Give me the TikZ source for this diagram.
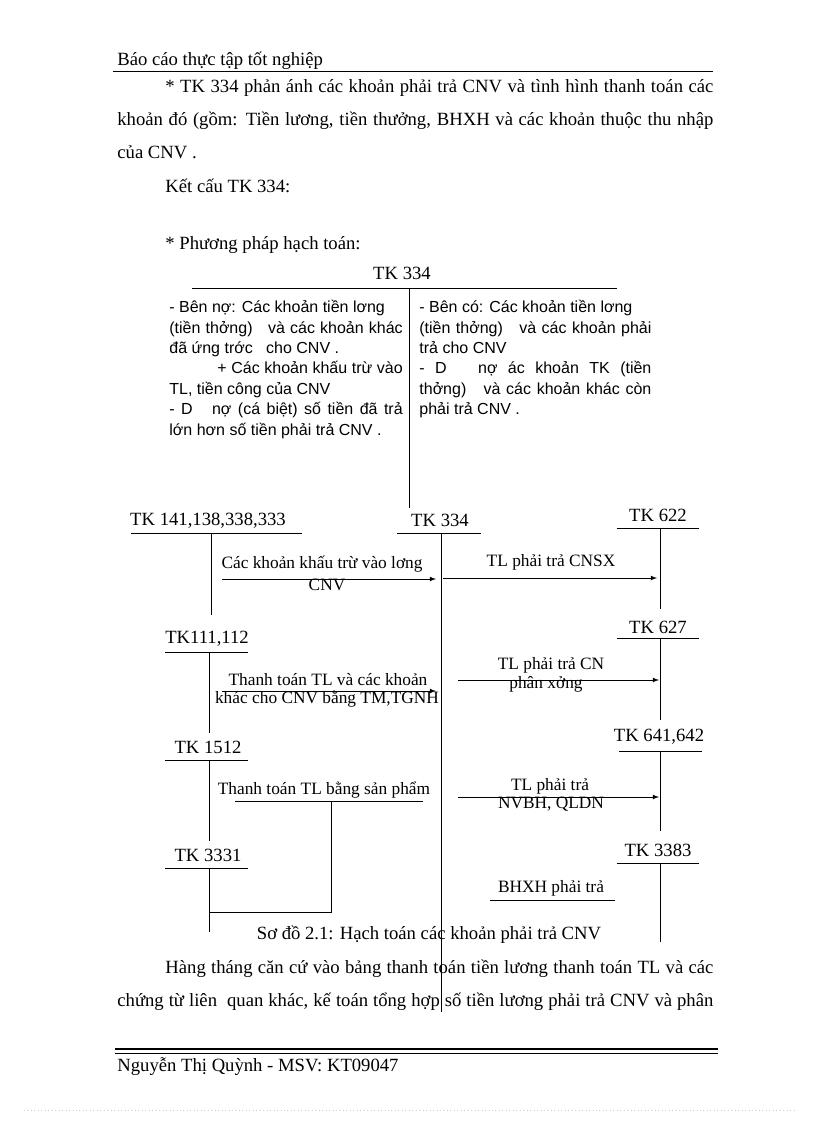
\documentclass[tikz,border=0pt]{standalone}
\usepackage{fontspec}
\setmainfont{Liberation Serif}
\newfontfamily\tksans{Liberation Sans}
\usetikzlibrary{positioning, arrows}

\begin{document}
\begin{tikzpicture}[x=0.75pt, y=-0.75pt, line width=0.6pt,
    body/.style={anchor=base west, inner sep=0pt, font=\fontsize{14}{16}\selectfont},
    acct/.style={inner sep=0pt, font=\fontsize{14}{16}\selectfont},
    lbl/.style={inner sep=0pt, font=\fontsize{13}{15}\selectfont},
    side/.style={anchor=north west, inner sep=0pt, text width=175pt, align=justify,
        font=\tksans\fontsize{12}{15.3}\selectfont},
    flow/.style={-latex}]
\useasboundingbox (0,0) rectangle (816,1123);

% header
\node[body] (hdr) at (117,66) {Báo cáo thực tập tốt nghiệp};
\coordinate (hl) at (113,71); \coordinate (hr) at (713,71);
\draw (hl) -- (hr);

\node[body] (p1) at (165,93) {\makebox[411pt][s]{* TK 334 phản ánh các khoản phải trả CNV và tình hình thanh toán các}};
\node[body] (p2) at (117,126) {\makebox[447pt][s]{khoản đó (gồm: Tiền lương, tiền thưởng, BHXH và các khoản thuộc thu nhập}};
\node[body] (p3) at (117,159) {của CNV .};
\node[body] (p4) at (165,193) {Kết cấu TK 334:};
\node[body] (p5) at (165,249) {* Phương pháp hạch toán:};

% T account
\node[acct] (t334) at (402,273) {TK 334};
\coordinate (tl) at (192,288); \coordinate (tr) at (617,288);
\coordinate (ttop) at (409,288); \coordinate (tbot) at (409,508);
\draw (tl) -- (tr);
\draw (ttop) -- (tbot);

\node[side] (beno) at (169,300) {- Bên nợ: Các khoản tiền lơng\newline
    (tiền thởng)\ \ \ và các khoản khác\linebreak
    đã ứng trớc\ \ \ cho CNV .\newline
    \hspace*{36pt}+ Các khoản khấu trừ vào\linebreak
    TL, tiền công của CNV\newline
    - D\ \ \ nợ (cá biệt) số tiền đã trả\linebreak
    lớn hơn số tiền phải trả CNV .};
\node[side, text width=174pt] (beco) at (419,300) {- Bên có: Các khoản tiền lơng\newline
    (tiền thởng)\ \ \ và các khoản phải\linebreak
    trả cho CNV\newline
    - D\ \ \ nợ ác khoản TK (tiền\linebreak
    thởng)\ \ \ và các khoản khác còn\linebreak
    phải trả CNV .};

% accounts
\node[acct] (k141) at (208,521) {TK 141,138,338,333};
\node[acct] (k334) at (440,520) {TK 334};
\node[acct] (k622) at (658,515) {TK 622};
\node[acct] (k111) at (207,639) {TK111,112};
\node[acct] (k627) at (658,627) {TK 627};
\node[acct] (k1512) at (208,747) {TK 1512};
\node[acct] (k641) at (659,737) {TK 641,642};
\node[acct] (k3331) at (208,855) {TK 3331};
\node[acct] (k3383) at (658,850) {TK 3383};

\draw (131,533) -- (302,533);  \draw (211,533) -- (211,615);
\draw (397,533) -- (481,533);  \draw (441,533) -- (441,1012);
\draw (617,528) -- (699,528);  \draw (660,528) -- (660,609);
\draw (165,652) -- (248,652);  \draw (209,652) -- (209,733);
\draw (617,638) -- (699,638);  \draw (660,638) -- (660,720);
\draw (165,760) -- (248,760);  \draw (209,760) -- (209,841);
\draw (619,751) -- (702,751);  \draw (660,751) -- (660,831);
\draw (165,868) -- (248,868);  \draw (209,868) -- (209,932);
\draw (617,863) -- (699,863);  \draw (660,863) -- (660,942);

% flows
\coordinate (a1s) at (222,579); \coordinate (a1e) at (436,579);
\coordinate (a2s) at (443,578); \coordinate (a2e) at (657,578);
\coordinate (a3s) at (222,691); \coordinate (a3e) at (436,691);
\coordinate (a4s) at (458,680); \coordinate (a4e) at (659,680);
\coordinate (a5s) at (458,797); \coordinate (a5e) at (659,797);
\path (a1s) edge[flow] (a1e);
\path (a2s) edge[flow] (a2e);
\path (a3s) edge[flow] (a3e);
\path (a4s) edge[flow] (a4e);
\path (a5s) edge[flow] (a5e);

\node[lbl] (l1a) at (322,564) {Các khoản khấu trừ vào lơng};
\node[lbl] (l1b) at (327,585) {CNV};
\node[lbl] (l2) at (551,562) {TL phải trả CNSX};
\node[lbl] (l3a) at (328,680) {Thanh toán TL và các khoản};
\node[lbl] (l3b) at (327,699) {khác cho CNV bằng TM,TGNH};
\node[lbl] (l4a) at (551,665) {TL phải trả CN};
\node[lbl] (l4b) at (546,684) {phân xởng};
\node[lbl] (l5a) at (550,786) {TL phải trả};
\node[lbl] (l5b) at (551,804) {NVBH, QLDN};

% product payment
\node[lbl] (l6) at (324,790) {Thanh toán TL bằng sản phẩm};
\coordinate (b1) at (235,801); \coordinate (b2) at (423,801);
\coordinate (bj) at (331,801); \coordinate (bd) at (331,912);
\coordinate (bk) at (209,912);
\draw (b1) -- (b2);
\draw (bj) -- (bd) -- (bk);

\node[lbl] (l7) at (551,888) {BHXH phải trả};
\coordinate (c1) at (490,900); \coordinate (c2) at (615,900);
\draw (c1) -- (c2);

\node[acct] (cap) at (429,935) {Sơ đồ 2.1: Hạch toán các khoản phải trả CNV};

\node[body] (p6) at (165,973) {\makebox[411pt][s]{Hàng tháng căn cứ vào bảng thanh toán tiền lương thanh toán TL và các}};
\node[body] (p7) at (117,1006) {\makebox[447pt][s]{chứng từ liên\ \ quan khác, kế toán tổng hợp số tiền lương phải trả CNV và phân}};

% footer
\coordinate (fl) at (115,1049); \coordinate (fr) at (718,1049);
\draw[line width=1.2pt] (fl) -- (fr);
\draw ([yshift=-3pt]fl) -- ([yshift=-3pt]fr);
\node[body] (ftr) at (117,1071) {Nguyễn Thị Quỳnh - MSV: KT09047};
\coordinate (dl) at (24,1110); \coordinate (dr) at (796,1110);
\draw[gray!40, dotted] (dl) -- (dr);
\end{tikzpicture}
\end{document}
